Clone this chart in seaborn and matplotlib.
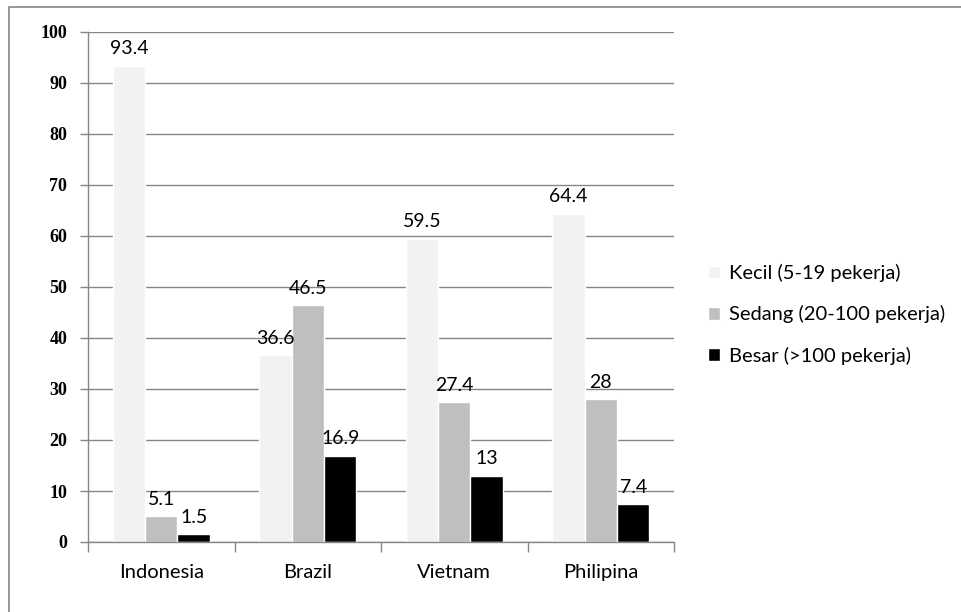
import pandas as pd
import seaborn as sns
import matplotlib.pyplot as plt
from matplotlib.patches import Rectangle

# data
negara = ['Indonesia', 'Brazil', 'Vietnam', 'Philipina']
kecil = [93.4, 36.6, 59.5, 64.4]
sedang = [5.1, 46.5, 27.4, 28]
besar = [1.5, 16.9, 13, 7.4]
kelompok = ['Kecil (5-19 pekerja)', 'Sedang (20-100 pekerja)', 'Besar (>100 pekerja)']
warna = ['#F2F2F2', '#BFBFBF', '#000000']
y_ticks = [0, 10, 20, 30, 40, 50, 60, 70, 80, 90, 100]

df = pd.DataFrame({
    'Negara': negara * 3,
    'Ukuran': [kelompok[0]] * 4 + [kelompok[1]] * 4 + [kelompok[2]] * 4,
    'Persen': kecil + sedang + besar,
})

sns.set_style('white')
plt.rcParams['font.family'] = ['Lato', 'DejaVu Sans']
plt.rcParams['text.color'] = 'black'

fig = plt.figure(figsize=(9.62, 6.12), dpi=100)
ax = fig.add_axes([88 / 962, 1 - 542 / 612, (674 - 88) / 962, (542 - 32) / 612])

sns.barplot(data=df, x='Negara', y='Persen', hue='Ukuran', palette=warna,
            width=0.665, saturation=1, ax=ax, legend=True)

# label angka di atas batang
for cont in ax.containers:
    ax.bar_label(cont, labels=[f'{v:g}' for v in cont.datavalues],
                 padding=6, fontsize=14, color='black')

ax.set_ylim(0, 100)
ax.set_xlim(-0.5, 3.5)
ax.set_yticks(y_ticks)
ax.set_yticklabels([str(t) for t in y_ticks], family='Liberation Serif',
                   fontsize=13, fontweight='bold', color='black')
ax.yaxis.grid(True, color='#868686', linewidth=1)
ax.set_axisbelow(True)
ax.set_xlabel('')
ax.set_ylabel('')

for s in ['top', 'right']:
    ax.spines[s].set_visible(False)
for s in ['left', 'bottom']:
    ax.spines[s].set_color('#868686')
    ax.spines[s].set_linewidth(1)

ax.tick_params(axis='y', length=6, color='#868686', width=1, pad=9, left=True)
ax.tick_params(axis='x', length=0, pad=16, labelsize=14.5, labelcolor='black')
ax.set_xticks([-0.5, 0.5, 1.5, 2.5, 3.5], minor=True)
ax.tick_params(axis='x', which='minor', length=7, color='#868686', width=1, bottom=True)

# legenda
handles, labels = ax.get_legend_handles_labels()
ax.legend_.remove()
fig.legend(handles, labels, loc='upper left', bbox_to_anchor=(700 / 962, 1 - 256 / 612),
           frameon=False, fontsize=14.5, handlelength=0.6, handleheight=0.6,
           handletextpad=0.45, labelspacing=1.15, borderaxespad=0)

# bingkai luar
fig.patches.append(Rectangle((9 / 962, -0.1), 1.2, 1.1 - 7 / 612,
                             transform=fig.transFigure, fill=False,
                             edgecolor='#868686', linewidth=1.2))

plt.savefig('out.png', dpi=100)
